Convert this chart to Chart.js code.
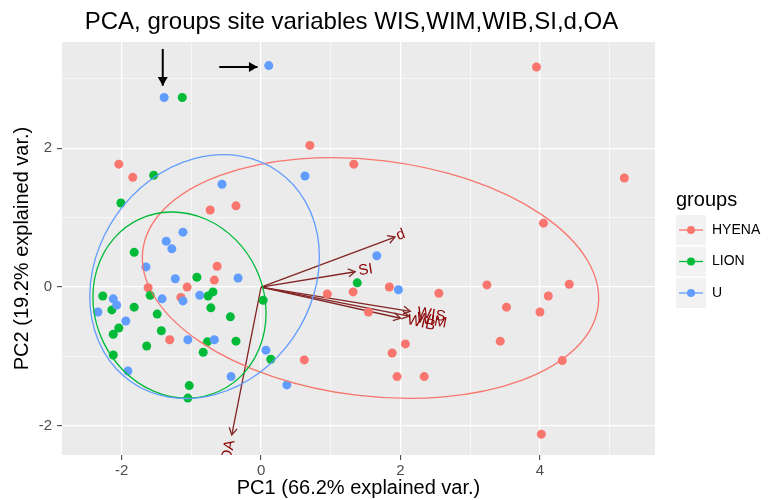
<!DOCTYPE html>
<html>
<head>
<meta charset="utf-8">
<script src="https://cdn.jsdelivr.net/npm/chart.js@4.4.1/dist/chart.umd.min.js"></script>
<style>
  body { margin: 0; background: #fff; }
  #wrap { width: 768px; height: 500px; }
</style>
</head>
<body>
<div id="wrap"><canvas id="pca"></canvas></div>
<script>
// PC scores, [PC1, PC2]
const hyena = [
  [-2.04, 1.77], [-1.84, 1.58], [0.70, 2.04], [1.33, 1.77], [3.95, 3.17], [5.21, 1.57],
  [-0.73, 1.11], [-0.36, 1.17], [-0.63, 0.30], [-0.67, 0.10], [-1.06, 0.00], [-1.62, -0.01],
  [-1.15, -0.15], [-1.31, -0.76], [4.05, 0.92], [0.95, -0.10], [1.32, -0.07], [1.84, 0.00],
  [2.55, -0.09], [3.24, 0.03], [4.42, 0.04], [4.12, -0.13], [3.52, -0.29], [4.00, -0.36],
  [1.54, -0.36], [2.07, -0.82], [1.88, -0.95], [0.62, -1.05], [1.95, -1.29], [2.34, -1.29],
  [3.43, -0.78], [4.32, -1.06], [4.02, -2.12]
];
const lion = [
  [-1.13, 2.73], [-1.54, 1.61], [-2.01, 1.21], [-1.82, 0.50], [-0.92, 0.14], [-2.27, -0.13],
  [-1.59, -0.12], [-0.76, -0.13], [-0.69, -0.07], [0.03, -0.19], [-1.82, -0.29], [-2.14, -0.33],
  [-0.72, -0.30], [-1.49, -0.39], [-0.44, -0.43], [-2.04, -0.59], [-2.12, -0.68], [-1.43, -0.63],
  [-1.64, -0.85], [-0.77, -0.79], [-0.36, -0.78], [-0.83, -0.94], [-2.12, -0.98], [0.14, -1.04],
  [-1.03, -1.42], [-1.05, -1.60], [1.38, 0.06]
];
const u = [
  [-1.39, 2.73], [0.11, 3.19], [0.63, 1.60], [-0.56, 1.48], [-1.12, 0.79], [-1.36, 0.66],
  [-1.28, 0.55], [-1.65, 0.29], [-1.23, 0.12], [-0.33, 0.13], [-2.12, -0.17], [-1.42, -0.17],
  [-1.12, -0.20], [-0.88, -0.12], [-2.07, -0.26], [-2.34, -0.36], [-1.94, -0.49], [-1.05, -0.76],
  [-0.67, -0.76], [0.07, -0.91], [-1.91, -1.21], [-0.43, -1.29], [0.37, -1.41], [1.66, 0.45],
  [1.97, -0.04]
];

const groupNames = ['HYENA', 'LION', 'U'];
const groupColors = ['#F8766D', '#00BA38', '#619CFF'];

// variable arrows (loadings)
const varNames = ['d', 'SI', 'WIS', 'WIM', 'WIB', 'OA'];
const varX = [1.92, 1.35, 2.14, 2.12, 2.00, -0.42];
const varY = [0.72, 0.22, -0.35, -0.42, -0.45, -2.13];

// group ellipses: centre, semi axes, angle (deg)
const ellCx = [1.57, -1.17, -0.81];
const ellCy = [0.13, -0.26, 0.15];
const ellA = [3.29, 1.36, 1.84];
const ellB = [1.70, 1.22, 1.55];
const ellAngle = [-6.9, -65, 55];

// black pointer arrows drawn on the figure [x1, y1, x2, y2]
const pointers = [[-1.41, 3.43, -1.41, 2.90], [-0.60, 3.17, -0.05, 3.17]];

const xRange = [-2.855, 5.65];
const yRange = [-2.42, 3.53];

const FONT = '"Liberation Sans", Arial, Helvetica, sans-serif';
Chart.defaults.font.family = FONT;

const evenOnly = v => (v % 2 === 0 ? String(v) : '');
const gridWidth = c => (c.tick && c.tick.value % 2 === 0 ? 1.3 : 0.6);
const tickColor = c => (c.tick && c.tick.value % 2 === 0 ? '#333333' : 'rgba(0,0,0,0)');

function arrowHead(ctx, x1, y1, x2, y2, len, filled) {
  const ang = Math.atan2(y2 - y1, x2 - x1);
  ctx.beginPath();
  ctx.moveTo(x2 - len * Math.cos(ang - Math.PI / 6), y2 - len * Math.sin(ang - Math.PI / 6));
  ctx.lineTo(x2, y2);
  ctx.lineTo(x2 - len * Math.cos(ang + Math.PI / 6), y2 - len * Math.sin(ang + Math.PI / 6));
  if (filled) { ctx.closePath(); ctx.fill(); } else { ctx.stroke(); }
}

const panelBg = {
  id: 'panelBg',
  beforeDraw(chart) {
    const { ctx, chartArea: a } = chart;
    ctx.save();
    ctx.fillStyle = '#EBEBEB';
    ctx.fillRect(a.left, a.top, a.width, a.height);
    ctx.restore();
  }
};

const biplot = {
  id: 'biplot',
  beforeDatasetsDraw(chart) {
    const { ctx, scales: { x, y } } = chart;
    const x0 = x.getPixelForValue(0), y0 = y.getPixelForValue(0);
    ctx.save();
    ctx.strokeStyle = '#832424';
    ctx.lineWidth = 1.3;
    varNames.forEach((n, i) => {
      const px = x.getPixelForValue(varX[i]), py = y.getPixelForValue(varY[i]);
      ctx.beginPath();
      ctx.moveTo(x0, y0);
      ctx.lineTo(px, py);
      ctx.stroke();
      arrowHead(ctx, x0, y0, px, py, 8, false);
    });
    ctx.restore();
  },
  afterDatasetsDraw(chart) {
    const { ctx, chartArea: a, scales: { x, y } } = chart;
    const kx = Math.abs(x.getPixelForValue(1) - x.getPixelForValue(0));
    const ky = Math.abs(y.getPixelForValue(1) - y.getPixelForValue(0));
    ctx.save();
    ctx.beginPath();
    ctx.rect(a.left, a.top, a.width, a.height);
    ctx.clip();

    // ellipses
    ctx.lineWidth = 1.3;
    groupNames.forEach((g, i) => {
      ctx.strokeStyle = groupColors[i];
      ctx.beginPath();
      ctx.ellipse(x.getPixelForValue(ellCx[i]), y.getPixelForValue(ellCy[i]),
        ellA[i] * kx, ellB[i] * ky, -ellAngle[i] * Math.PI / 180, 0, Math.PI * 2);
      ctx.stroke();
    });

    // variable names
    ctx.fillStyle = '#8B0000';
    ctx.font = '15px ' + FONT;
    ctx.textBaseline = 'middle';
    ctx.textAlign = 'left';
    varNames.forEach((n, i) => {
      const px = x.getPixelForValue(varX[i]), py = y.getPixelForValue(varY[i]);
      const ang = Math.atan(varY[i] / varX[i]);
      const hjust = (1 - 1.5 * Math.sign(varX[i])) / 2;
      const w = ctx.measureText(n).width;
      ctx.save();
      ctx.translate(px, py);
      ctx.rotate(-ang);
      ctx.fillText(n, -hjust * w, 0);
      ctx.restore();
    });

    // pointer arrows
    ctx.strokeStyle = '#000';
    ctx.fillStyle = '#000';
    ctx.lineWidth = 2;
    pointers.forEach(p => {
      const x1 = x.getPixelForValue(p[0]), y1 = y.getPixelForValue(p[1]);
      const x2 = x.getPixelForValue(p[2]), y2 = y.getPixelForValue(p[3]);
      ctx.beginPath();
      ctx.moveTo(x1, y1);
      ctx.lineTo(x2, y2);
      ctx.stroke();
      arrowHead(ctx, x1, y1, x2, y2, 10, true);
    });
    ctx.restore();
  },
  afterDraw(chart) {
    const { ctx, chartArea: a } = chart;
    ctx.save();
    // title
    ctx.fillStyle = '#000';
    ctx.font = '24px ' + FONT;
    ctx.textAlign = 'center';
    ctx.textBaseline = 'middle';
    ctx.fillText('PCA, groups site variables WIS,WIM,WIB,SI,d,OA', (a.left + a.right) / 2 - 7, 22);

    // legend
    const lx = a.right + 21;
    ctx.textAlign = 'left';
    ctx.font = '20px ' + FONT;
    ctx.fillText('groups', lx, 200);
    ctx.font = '14px ' + FONT;
    groupNames.forEach((g, i) => {
      const ty = 215 + i * 31.5;
      ctx.fillStyle = '#F2F2F2';
      ctx.fillRect(lx, ty, 30, 30);
      ctx.strokeStyle = groupColors[i];
      ctx.lineWidth = 1.3;
      ctx.beginPath();
      ctx.moveTo(lx + 3, ty + 15);
      ctx.lineTo(lx + 27, ty + 15);
      ctx.stroke();
      ctx.fillStyle = groupColors[i];
      ctx.beginPath();
      ctx.arc(lx + 15, ty + 15, 4, 0, Math.PI * 2);
      ctx.fill();
      ctx.fillStyle = '#000';
      ctx.fillText(g, lx + 36, ty + 15);
    });
    ctx.restore();
  }
};

const groupSets = [hyena, lion, u];

new Chart(document.getElementById('pca'), {
  type: 'scatter',
  data: {
    datasets: groupNames.map((name, i) => ({
      label: name,
      data: groupSets[i].map(p => ({ x: p[0], y: p[1] })),
      backgroundColor: groupColors[i],
      borderColor: groupColors[i],
      borderWidth: 0,
      pointRadius: 4.5,
      pointHoverRadius: 4.5,
      order: 2 - i
    }))
  },
  options: {
    responsive: true,
    maintainAspectRatio: false,
    animation: false,
    layout: { padding: { top: 42, right: 113, left: 0, bottom: 0 } },
    plugins: {
      legend: { display: false },
      title: { display: false },
      tooltip: { enabled: false }
    },
    scales: {
      x: {
        type: 'linear',
        min: xRange[0],
        max: xRange[1],
        border: { display: false },
        grid: { color: '#FFFFFF', lineWidth: gridWidth, tickLength: 5, tickColor: tickColor, tickWidth: 1 },
        ticks: { stepSize: 1, includeBounds: false, autoSkip: false, maxRotation: 0, padding: 2,
          color: '#4D4D4D', font: { size: 15 }, callback: evenOnly },
        title: { display: true, text: 'PC1 (66.2% explained var.)', color: '#000',
          font: { size: 20 }, padding: { top: 0, bottom: 0 } },
        afterFit: s => { s.height = 45; }
      },
      y: {
        type: 'linear',
        min: yRange[0],
        max: yRange[1],
        border: { display: false },
        grid: { color: '#FFFFFF', lineWidth: gridWidth, tickLength: 5, tickColor: tickColor, tickWidth: 1 },
        ticks: { stepSize: 1, includeBounds: false, autoSkip: false, padding: 5,
          color: '#4D4D4D', font: { size: 15 }, callback: evenOnly },
        title: { display: true, text: 'PC2 (19.2% explained var.)', color: '#000',
          font: { size: 20 }, padding: { top: 10, bottom: 0 } },
        afterFit: s => { s.width = 62; }
      }
    }
  },
  plugins: [panelBg, biplot]
});
</script>
</body>
</html>
